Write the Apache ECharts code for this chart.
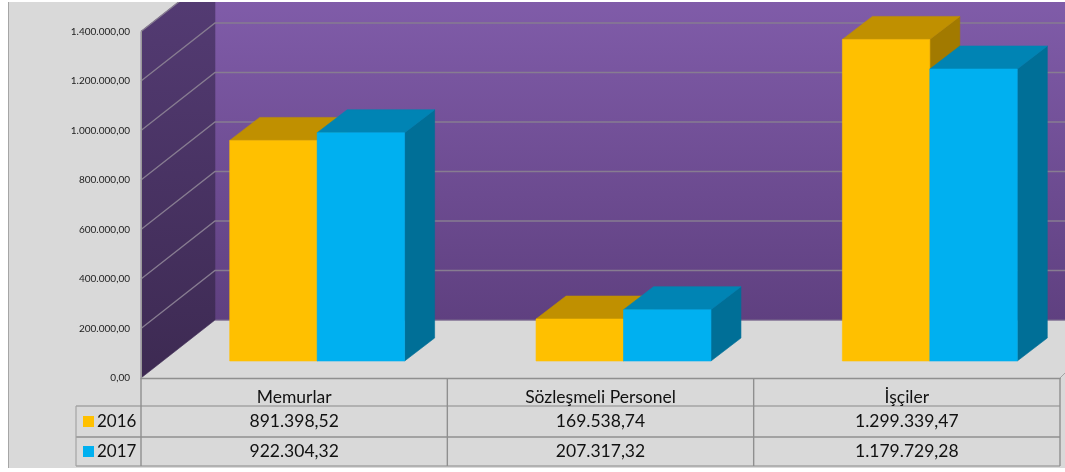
<!DOCTYPE html>
<html>
<head>
<meta charset="utf-8">
<style>html,body{margin:0;padding:0;background:#fff}#c{width:1065px;height:472px}</style>
<script src="https://cdn.jsdelivr.net/npm/echarts@6/dist/echarts.min.js"></script>
</head>
<body>
<div id="c"></div>
<script>
const categories = ['Memurlar', 'Sözleşmeli Personel', 'İşçiler'];
const values2016 = [891398.52, 169538.74, 1299339.47];
const values2017 = [922304.32, 207317.32, 1179729.28];
const yTicks = [200000, 400000, 600000, 800000, 1000000, 1200000, 1400000];

const FONT = 'Lato, "Open Sans", sans-serif';
const WALL_DX = 74, WALL_DY = -58;      // perspective depth of floor
const BAR_SHIFT_X = 23, BAR_SHIFT_Y = -17; // bar front plane
const BAR_DX = 30, BAR_DY = -23;        // bar depth
const LINE = '#a3a3a3', LINE_DARK = '#8f8f8f';

function fmt(v) {
  const parts = v.toFixed(2).split('.');
  return parts[0].replace(/\B(?=(\d{3})+(?!\d))/g, '.') + ',' + parts[1];
}
function lin(c0, c1) {
  return new echarts.graphic.LinearGradient(0, 0, 0, 1, [{offset: 0, color: c0}, {offset: 1, color: c1}]);
}
const poly = (points, fill, stroke) => ({type: 'polygon', shape: {points}, style: {fill, stroke: stroke || fill, lineWidth: 0.6}});
const line = (x1, y1, x2, y2, stroke, lineWidth) => ({type: 'line', shape: {x1, y1, x2, y2}, style: {stroke, lineWidth: lineWidth || 1}});

function renderWalls(params, api) {
  const o = api.coord([0, 0]);
  const xL = o[0] - api.size([1, 0])[0] / 2;
  const xR = xL + api.size([1, 0])[0] * categories.length;
  const yT = api.coord([0, 1400000])[1];
  const yB = o[1];
  const kids = [];
  kids.push(poly([[xL + WALL_DX, 0], [1065, 0], [1065, yB + WALL_DY], [xL + WALL_DX, yB + WALL_DY]], lin('#805ca9', '#5f4080')));
  kids.push(line(xL + WALL_DX, yB + WALL_DY, 1065, yB + WALL_DY, '#7b6a8c', 1));
  kids.push(poly([[xL, yT], [xL + WALL_DX, yT + WALL_DY], [xL + WALL_DX, yB + WALL_DY], [xL, yB]], lin('#553c75', '#3d2a52')));
  yTicks.forEach(t => {
    const y = api.coord([0, t])[1];
    kids.push({type: 'polyline', shape: {points: [[xL, y], [xL + WALL_DX, y + WALL_DY], [1065, y + WALL_DY]]},
      style: {stroke: '#877c91', lineWidth: 1.3, fill: null}});
  });
  // table grid below the front edge
  const rows = [28, 59, 88];
  const vx = [xL - 65, xL, xL + (xR - xL) / 3, xL + 2 * (xR - xL) / 3, xR];
  rows.forEach((r, i) => kids.push(line(vx[0], yB + r, xR, yB + r, i === 1 ? LINE_DARK : LINE, 1.4)));
  kids.push(line(vx[0], yB + rows[0], vx[0], yB + rows[2], LINE, 1.2));
  vx.slice(1).forEach(x => kids.push(line(x, yB, x, yB + rows[2], LINE_DARK, 1.4)));
  kids.push(line(xR, yB, 1065, yB - 5, LINE, 1));
  return {type: 'group', children: kids};
}

function renderBar(offsetSign, rowCenter, front, top, side) {
  return function (params, api) {
    const i = api.value(0), v = api.value(1);
    const w = api.size([1, 0])[0] * 0.2855;
    const base = api.coord([i, 0]), head = api.coord([i, v]);
    const x0 = base[0] + BAR_SHIFT_X + (offsetSign < 0 ? -w : 0);
    const x1 = x0 + w;
    const yb = base[1] + BAR_SHIFT_Y, yt = head[1] + BAR_SHIFT_Y;
    return {type: 'group', children: [
      poly([[x1, yt], [x1 + BAR_DX, yt + BAR_DY], [x1 + BAR_DX, yb + BAR_DY], [x1, yb]], side),
      poly([[x0, yt], [x0 + BAR_DX, yt + BAR_DY], [x1 + BAR_DX, yt + BAR_DY], [x1, yt]], top),
      poly([[x0, yt], [x1, yt], [x1, yb], [x0, yb]], front),
      {type: 'text', style: {text: fmt(v), x: base[0], y: base[1] + rowCenter, align: 'center', verticalAlign: 'middle',
        font: '17.5px ' + FONT, fill: '#111'}}
    ]};
  };
}

const chart = echarts.init(document.getElementById('c'), null, {renderer: 'canvas'});
chart.setOption({
  animation: false,
  backgroundColor: '#d9d9d9',
  grid: {left: 141, right: 5, top: 31.5, height: 346.5},
  legend: {
    data: ['2016', '2017'], orient: 'vertical', left: 83, top: 413, itemWidth: 11, itemHeight: 11, itemGap: 13,
    icon: 'rect', selectedMode: false, padding: 0, textStyle: {fontFamily: FONT, fontSize: 17, color: '#111', padding: [0, 0, 0, -2]}
  },
  xAxis: {
    type: 'category', data: categories, z: 5,
    axisLine: {lineStyle: {color: LINE_DARK, width: 1.4}},
    axisTick: {show: false},
    axisLabel: {margin: 10, fontFamily: FONT, fontSize: 17.5, color: '#111', interval: 0}
  },
  yAxis: {
    type: 'value', min: 0, max: 1400000, interval: 200000, z: 5,
    axisLine: {show: true, lineStyle: {color: '#9a9a9a', width: 1}},
    axisTick: {show: false},
    splitLine: {show: false},
    axisLabel: {margin: 11, fontFamily: FONT, fontSize: 10, color: '#222', padding: [2, 0, 0, 0], formatter: v => fmt(v)}
  },
  graphic: [
    {type: 'rect', z: 100, shape: {x: 0, y: 0, width: 1065, height: 2}, style: {fill: '#fff'}},
    {type: 'rect', z: 100, shape: {x: 0, y: 0, width: 8, height: 472}, style: {fill: '#fff'}},
    {type: 'rect', z: 100, shape: {x: 8, y: 2, width: 1, height: 466}, style: {fill: '#a6a6a6'}},
    {type: 'rect', z: 100, shape: {x: 0, y: 468, width: 1065, height: 4}, style: {fill: '#fff'}}
  ],
  series: [
    {type: 'custom', name: 'walls', silent: true, data: [[0, 0]], encode: {x: 0, y: 1}, renderItem: renderWalls},
    {type: 'custom', name: '2016', itemStyle: {color: '#ffc000'}, encode: {x: 0, y: 1},
      data: values2016.map((v, i) => [i, v]), renderItem: renderBar(-1, 43.5, '#ffc000', '#c09000', '#a27a00')},
    {type: 'custom', name: '2017', itemStyle: {color: '#00b0f0'}, encode: {x: 0, y: 1},
      data: values2017.map((v, i) => [i, v]), renderItem: renderBar(1, 73.8, '#00b0f0', '#0084b4', '#006f97')}
  ]
});
</script>
</body>
</html>
